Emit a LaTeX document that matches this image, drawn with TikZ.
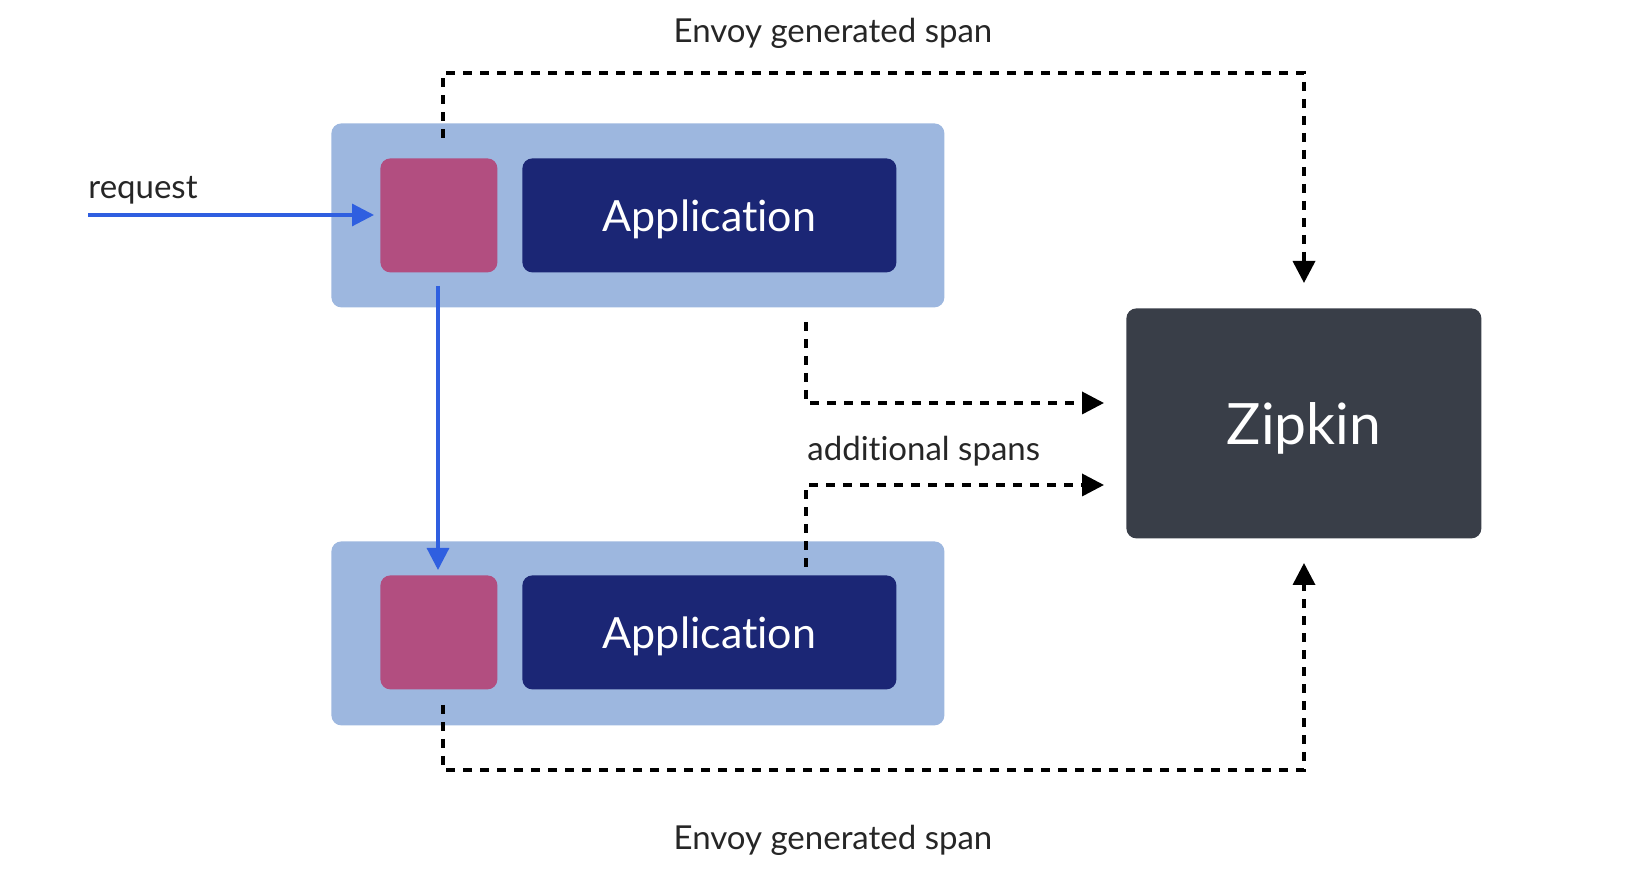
\documentclass[tikz,border=0pt]{standalone}
\usepackage{fontspec}
\setmainfont[Ligatures=NoCommon]{Lato}
\usetikzlibrary{arrows.meta,calc}
\definecolor{outerblue}{HTML}{9DB7DF}
\definecolor{envoypink}{HTML}{B24E80}
\definecolor{appnavy}{HTML}{1B2675}
\definecolor{zipgray}{HTML}{393E48}
\definecolor{reqblue}{HTML}{2F5FE0}
\newcommand{\lowered}[2]{\raisebox{-#1}[\height][\depth]{#2}}
\tikzset{
  box/.style={draw=none,rounded corners=5pt,inner sep=0pt,anchor=north west},
  outerbox/.style={box,fill=outerblue,minimum width=306.5pt,minimum height=92pt},
  envoybox/.style={box,fill=envoypink,minimum width=58.5pt,minimum height=57pt},
  appbox/.style={box,fill=appnavy,minimum width=187pt,minimum height=57pt,text=white,font=\fontsize{21.5}{26}\selectfont},
  zipbox/.style={box,fill=zipgray,minimum width=177.5pt,minimum height=115pt,text=white,font=\fontsize{28.5}{32}\selectfont},
  lbl/.style={font=\fontsize{16.5}{19}\selectfont,text=black!85,inner sep=0pt},
  spanline/.style={draw=black,line width=1.8pt,dash pattern=on 4.5pt off 4pt,-{Triangle[length=11pt,width=11pt]}},
  reqline/.style={draw=reqblue,line width=1.6pt,-{Triangle[length=11pt,width=11pt]}}
}
\begin{document}
\begin{tikzpicture}[x=0.5pt,y=-0.5pt]
\useasboundingbox (0,0) rectangle (1630,870);
% boxes
\node[outerbox] (outer1) at (331,123) {};
\node[envoybox] (envoy1) at (380,158) {};
\node[appbox] (app1) at (522,158) {\lowered{2pt}{Application}};
\node[outerbox] (outer2) at (331,541) {};
\node[envoybox] (envoy2) at (380,575) {};
\node[appbox] (app2) at (522,575) {\lowered{2pt}{Application}};
\node[zipbox] (zipkin) at (1126,308) {\lowered{2.5pt}{Zipkin}};
% labels
\node[lbl,anchor=base west] (req) at (88,199) {request};
\node[lbl,anchor=center] (envoytop) at (833,33) {Envoy generated span};
\node[lbl,anchor=center] (envoybot) at (833,840) {Envoy generated span};
\node[lbl,anchor=west] (addl) at (807,451) {additional spans};
% coordinates
\coordinate (reqstart) at (88,215);
\coordinate (reqend) at (374,215);
\coordinate (vstart) at (438,286);
\coordinate (vend) at (438,570);
\coordinate (t1) at (443,138);
\coordinate (t2) at (1304,283);
\coordinate (b1) at (443,705);
\coordinate (b2) at (1304,563);
\coordinate (s1) at (806,322);
\coordinate (s1e) at (1104,403);
\coordinate (s2) at (806,567);
\coordinate (s2e) at (1104,485);
% connectors
\draw[reqline] (reqstart) -- (reqend);
\draw[reqline] (vstart) -- (vend);
\draw[spanline] (t1) -- (443,73) -| (t2);
\draw[spanline] (b1) -- (443,770) -| (b2);
\draw[spanline] (s1) |- (s1e);
\draw[spanline] (s2) |- (s2e);
\end{tikzpicture}
\end{document}
